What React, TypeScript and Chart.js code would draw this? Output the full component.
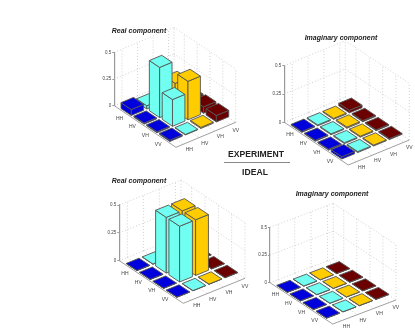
import React, { useEffect, useRef } from "react";
import { Chart, registerables } from "chart.js";

Chart.register(...registerables);

const rowLabels = ["HH", "HV", "VH", "VV"];
const colLabels = ["HH", "HV", "VH", "VV"];
const zTicks = [0, 0.25, 0.5];
const colColors = ["#0000DC", "#70FFF0", "#FFCC00", "#6B0000"];

// rows = row label, columns = column label
const realExperiment = [
  [0.055, 0.03, 0.03, 0.02],
  [0.01, 0.47, 0.26, 0.05],
  [0.01, 0.25, 0.36, 0.06],
  [0.012, 0.005, 0.01, 0.06],
];
const imagExperiment = [
  [0.008, 0.008, 0.008, 0.022],
  [0.008, 0.008, 0.01, 0.01],
  [0.008, 0.008, 0.008, 0.008],
  [0.02, 0.008, 0.008, 0.008],
];
const realIdeal = [
  [0.002, 0.002, 0.002, 0.002],
  [0.002, 0.5, 0.5, 0.002],
  [0.002, 0.5, 0.5, 0.002],
  [0.002, 0.002, 0.002, 0.002],
];
const imagIdeal = [
  [0.002, 0.002, 0.002, 0.002],
  [0.002, 0.002, 0.002, 0.002],
  [0.002, 0.002, 0.002, 0.002],
  [0.002, 0.002, 0.002, 0.002],
];

type Panel = {
  title: string;
  values: number[][];
  canvas: { left: number; top: number; width: number; height: number };
  titleY: number;
  left: [number, number];
  front: [number, number];
  right: [number, number];
  zTop: number;
};

const panels: Panel[] = [
  { title: "Real component", values: realExperiment, canvas: { left: 29, top: 20, width: 220, height: 140 }, titleY: 30.7, left: [114.3, 105.7], front: [176, 147.3], right: [235.7, 122.3], zTop: 52.3 },
  { title: "Imaginary component", values: imagExperiment, canvas: { left: 267, top: 28, width: 148, height: 147 }, titleY: 37.7, left: [284.3, 122.3], front: [348.3, 165], right: [409.3, 140], zTop: 65.7 },
  { title: "Real component", values: realIdeal, canvas: { left: 29, top: 172, width: 220, height: 152 }, titleY: 181, left: [119.3, 260.7], front: [183.3, 303.3], right: [245, 278.3], zTop: 205 },
  { title: "Imaginary component", values: imagIdeal, canvas: { left: 252, top: 185, width: 160, height: 145 }, titleY: 194.3, left: [270, 282.7], front: [332.7, 324], right: [396, 300], zTop: 227.3 },
];

const ROW_SPAN = 4.8;
const COL_SPAN = 3.85;
const ROW_START = 0.8;
const BAR = 0.8;
const FONT = "Liberation Sans, Arial, sans-serif";

const box3d = (panel: Panel) => ({
  id: "box3d",
  beforeDatasetsDraw(chart: any) {
    const { ctx, scales } = chart;
    const P = makeProject(panel, scales);
    ctx.save();
    ctx.strokeStyle = "#bdbdbd";
    ctx.lineWidth = 0.7;
    ctx.setLineDash([1, 2]);
    const line = (a: number[], b: number[]) => {
      ctx.beginPath();
      ctx.moveTo(a[0], a[1]);
      ctx.lineTo(b[0], b[1]);
      ctx.stroke();
    };
    zTicks.forEach((z) => {
      line(P(0, 0, z), P(0, COL_SPAN, z));
      line(P(0, COL_SPAN, z), P(ROW_SPAN, COL_SPAN, z));
    });
    colLabels.forEach((_, c) => {
      line(P(0, c + 0.5, 0), P(0, c + 0.5, 0.5));
      line(P(0, c + 0.5, 0), P(ROW_SPAN, c + 0.5, 0));
    });
    rowLabels.forEach((_, r) => {
      line(P(r + ROW_START, COL_SPAN, 0), P(r + ROW_START, COL_SPAN, 0.5));
      line(P(r + ROW_START, 0, 0), P(r + ROW_START, COL_SPAN, 0));
    });
    line(P(0, COL_SPAN, 0), P(0, COL_SPAN, 0.5));
    line(P(ROW_SPAN, COL_SPAN, 0), P(ROW_SPAN, COL_SPAN, 0.5));
    ctx.setLineDash([]);
    ctx.strokeStyle = "#888";
    ctx.lineWidth = 0.8;
    line(P(0, 0, 0), P(ROW_SPAN, 0, 0));
    line(P(ROW_SPAN, 0, 0), P(ROW_SPAN, COL_SPAN, 0));
    ctx.fillStyle = "#444";
    ctx.font = `5px ${FONT}`;
    ctx.textAlign = "center";
    ctx.textBaseline = "middle";
    rowLabels.forEach((label, r) => {
      const p = P(r + ROW_START, 0, 0);
      ctx.fillText(label, p[0] - 5, p[1] + 5.5);
    });
    colLabels.forEach((label, c) => {
      const p = P(ROW_SPAN, c + 0.5, 0);
      ctx.fillText(label, p[0] + 5.5, p[1] + 5.7);
    });
    ctx.restore();
  },
  afterDatasetsDraw(chart: any) {
    const { ctx, scales, data } = chart;
    const P = makeProject(panel, scales);
    const h = BAR / 2;
    const cells: { r: number; c: number }[] = [];
    rowLabels.forEach((_, r) => colLabels.forEach((_, c) => cells.push({ r, c })));
    cells.sort((a, b) => a.r - a.c - (b.r - b.c));
    ctx.save();
    ctx.lineJoin = "round";
    ctx.lineWidth = 0.9;
    ctx.strokeStyle = "#555";
    cells.forEach(({ r, c }) => {
      const z = data.datasets[c].data[r].y;
      const r0 = r + ROW_START - h;
      const r1 = r + ROW_START + h;
      const c0 = c + 0.5 - h;
      const c1 = c + 0.5 + h;
      const faces = [
        [P(r0, c0, 0), P(r1, c0, 0), P(r1, c0, z), P(r0, c0, z)],
        [P(r1, c0, 0), P(r1, c1, 0), P(r1, c1, z), P(r1, c0, z)],
        [P(r0, c0, z), P(r1, c0, z), P(r1, c1, z), P(r0, c1, z)],
      ];
      faces.forEach((f) => {
        ctx.beginPath();
        f.forEach((p, i) => (i ? ctx.lineTo(p[0], p[1]) : ctx.moveTo(p[0], p[1])));
        ctx.closePath();
        ctx.fillStyle = data.datasets[c].backgroundColor;
        ctx.fill();
        ctx.stroke();
      });
    });
    ctx.restore();
  },
});

function makeProject(panel: Panel, scales: any) {
  const ux = (panel.front[0] - panel.left[0]) / ROW_SPAN;
  const vx = (panel.right[0] - panel.front[0]) / COL_SPAN;
  const uy = (panel.front[1] - panel.left[1]) / ROW_SPAN;
  const vy = (panel.right[1] - panel.front[1]) / COL_SPAN;
  const w = panel.right[0] - panel.left[0];
  return (row: number, col: number, z: number) => [
    scales.x.getPixelForValue((row * ux + col * vx) / w),
    scales.y.getPixelForValue(z) + row * uy + col * vy,
  ];
}

function PanelChart({ panel }: { panel: Panel }) {
  const ref = useRef<HTMLCanvasElement>(null);
  useEffect(() => {
    const { canvas, titleY, left, right, zTop, values, title } = panel;
    const chart = new Chart(ref.current as HTMLCanvasElement, {
      type: "scatter",
      data: {
        datasets: colLabels.map((label, c) => ({
          label,
          data: rowLabels.map((_, r) => ({ x: r, y: values[r][c] })),
          backgroundColor: colColors[c],
          pointRadius: 0,
        })),
      },
      plugins: [box3d(panel)],
      options: {
        animation: false,
        responsive: false,
        devicePixelRatio: 1,
        layout: {
          padding: {
            top: 0,
            left: 0,
            right: 0,
            bottom: canvas.top + canvas.height - left[1],
          },
        },
        plugins: {
          legend: { display: false },
          tooltip: { enabled: false },
          title: {
            display: true,
            text: title,
            color: "#222",
            font: { family: FONT, size: 7, weight: "bold", style: "italic", lineHeight: 1 },
            padding: {
              top: titleY - canvas.top - 3.5,
              bottom: zTop - titleY - 3.5,
            },
          },
        },
        scales: {
          x: {
            type: "linear",
            display: false,
            min: 0,
            max: (canvas.left + canvas.width - left[0]) / (right[0] - left[0]),
          },
          y: {
            type: "linear",
            min: 0,
            max: 0.5,
            afterFit: (s: any) => {
              s.width = left[0] - canvas.left;
            },
            afterBuildTicks: (s: any) => {
              s.ticks = zTicks.map((value) => ({ value }));
            },
            border: { color: "#999", width: 1.2 },
            grid: { drawOnChartArea: false, drawTicks: true, tickLength: 2, color: "#999" },
            ticks: {
              color: "#444",
              font: { family: FONT, size: 4.5 },
              padding: 1,
              callback: (v: any) => String(v),
            },
          },
        },
      },
    } as any);
    return () => chart.destroy();
  }, [panel]);
  const c = panel.canvas;
  return (
    <canvas
      ref={ref}
      width={c.width}
      height={c.height}
      style={{ position: "absolute", left: c.left, top: c.top, width: c.width, height: c.height }}
    />
  );
}

const headingStyle: React.CSSProperties = {
  position: "absolute",
  left: 206,
  width: 100,
  textAlign: "center",
  font: `bold 8.6px ${FONT}`,
  color: "#222",
  lineHeight: "10px",
};

export default function App() {
  return (
    <div style={{ position: "fixed", left: 0, top: 0, width: 415, height: 330, overflow: "hidden", background: "#fff" }}>
      {panels.map((p, i) => (
        <PanelChart key={i} panel={p} />
      ))}
      <div style={{ ...headingStyle, top: 149 }}>EXPERIMENT</div>
      <div style={{ position: "absolute", left: 224, top: 162, width: 66, height: 1, background: "#888" }} />
      <div style={{ ...headingStyle, top: 167, left: 205 }}>IDEAL</div>
    </div>
  );
}
